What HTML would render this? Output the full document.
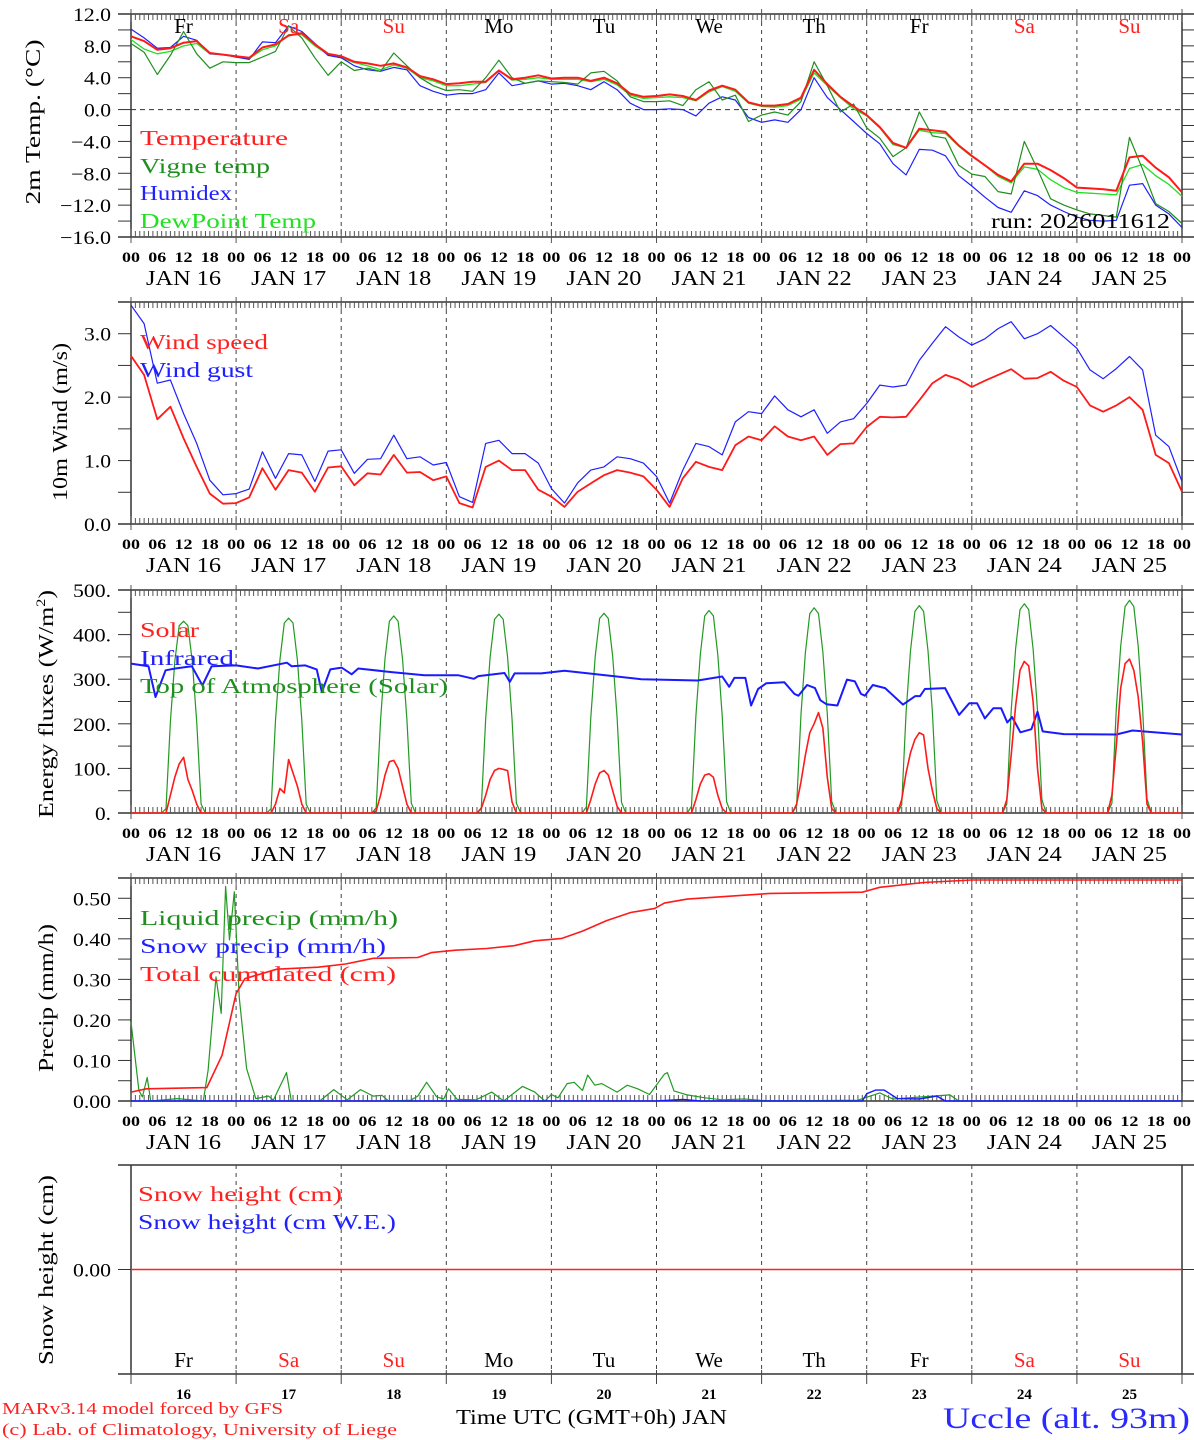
<!DOCTYPE html>
<html><head><meta charset="utf-8"><title>MAR forecast Uccle</title>
<style>
html,body{margin:0;padding:0;background:#fff;}
body{position:relative;width:1194px;height:1440px;overflow:hidden;}
svg{display:block;}
text{font-family:"Liberation Serif",serif;}
</style></head>
<body>
<svg id="chart" xmlns="http://www.w3.org/2000/svg" width="1194" height="1440" viewBox="0 0 1194 1440"></svg>
<script>
// ---------- DATA ----------
const dayLabels = ["Fr","Sa","Su","Mo","Tu","We","Th","Fr","Sa","Su"];
const dayNumbers = ["16","17","18","19","20","21","22","23","24","25"];
const hourTickLabels = ["00","06","12","18"];
const tempTicks = [12,8,4,0,-4,-8,-12,-16];
const windTicks = [0,1,2,3];
const fluxTicks = [0,100,200,300,400,500];
const precipTicks = [0,0.1,0.2,0.3,0.4,0.5];

// 3-hourly series, 81 points (Jan16 00 .. Jan26 00)
const temperature = [9.2,8.6,7.5,7.7,8.4,8.6,7.1,6.9, 6.7,6.5,7.8,8.2,9.3,9.6,8.2,7.0, 6.7,6.0,5.8,5.5,5.8,5.3,4.2,3.8, 3.2,3.3,3.5,3.5,4.9,3.8,4.0,4.3, 3.9,4.0,4.0,3.6,4.0,3.3,2.0,1.6, 1.7,1.9,1.7,1.2,2.4,3.0,2.5,0.9, 0.5,0.5,0.7,1.5,5.0,3.2,1.6,0.4, -0.7,-2.2,-4.2,-4.8,-2.4,-2.6,-2.8,-4.5, -5.8,-7.0,-8.2,-9.0,-6.8,-6.8,-7.6,-8.6, -9.8,-9.9,-10.0,-10.2,-6.0,-5.8,-7.3,-8.5,-10.4];
const vigneTemp = [8.3,7.2,4.4,6.8,9.8,7.0,5.2,6.0, 5.9,5.9,6.6,7.3,10.5,9.0,6.5,4.3, 6.0,4.9,5.2,4.8,7.1,5.5,4.0,3.0, 2.4,2.5,2.3,4.0,6.2,4.0,3.3,3.6, 3.5,3.4,3.2,4.6,4.8,3.6,1.6,1.0, 1.0,1.1,0.5,2.5,3.5,1.2,1.8,-1.5, -0.7,-0.3,-0.7,1.0,6.0,3.0,-0.3,0.7, -2.3,-3.6,-5.9,-4.8,-0.3,-3.3,-3.6,-7.0, -8.1,-8.4,-10.3,-10.6,-4.0,-7.5,-11.2,-12.0, -12.6,-13.1,-13.3,-13.5,-3.5,-7.5,-11.8,-12.8,-14.3];
const humidex = [10.1,9.0,7.7,7.8,9.2,8.7,7.0,6.9, 6.6,6.3,8.5,8.4,10.5,9.8,8.3,6.8, 6.5,5.5,5.0,4.8,5.3,5.0,3.0,2.3, 1.8,2.0,2.0,2.5,4.6,3.0,3.3,3.6, 3.2,3.3,3.0,2.5,3.5,2.5,0.8,0.0, 0.0,0.1,0.0,-0.8,0.8,1.6,1.2,-1.0, -1.6,-1.3,-1.6,0.0,4.0,1.5,0.0,-1.5, -3.0,-4.3,-6.8,-8.2,-5.0,-5.1,-5.8,-8.3, -9.6,-11.0,-12.3,-12.9,-10.2,-10.8,-12.0,-12.8, -13.5,-13.9,-14.0,-13.9,-9.5,-9.3,-12.0,-13.1,-14.8];
const dewPoint = [8.8,7.6,7.0,7.3,8.0,8.3,7.0,6.9, 6.6,6.4,7.5,8.0,9.4,9.4,8.0,6.9, 6.5,5.9,5.5,5.0,5.6,5.2,4.0,3.6, 3.0,3.0,3.2,3.4,4.9,3.7,3.8,4.0, 3.8,3.8,3.8,3.5,3.8,3.1,1.8,1.4, 1.5,1.6,1.5,1.1,2.2,2.9,2.3,0.8, 0.4,0.3,0.5,1.3,4.6,3.0,1.5,0.1, -0.8,-2.3,-4.4,-4.8,-2.6,-2.9,-3.0,-4.6, -5.9,-7.0,-8.4,-9.2,-7.2,-7.5,-8.8,-9.8, -10.4,-10.5,-10.6,-10.7,-7.4,-6.9,-8.3,-9.4,-10.9];
const windSpeed = [2.65,2.35,1.65,1.85,1.35,0.9,0.48,0.32, 0.33,0.42,0.88,0.54,0.85,0.81,0.51,0.89, 0.91,0.61,0.8,0.78,1.09,0.81,0.82,0.69, 0.75,0.33,0.26,0.9,1.0,0.85,0.85,0.54, 0.43,0.27,0.51,0.64,0.77,0.85,0.81,0.75, 0.54,0.27,0.72,0.98,0.9,0.85,1.24,1.38, 1.32,1.54,1.38,1.32,1.38,1.09,1.26,1.27, 1.53,1.69,1.68,1.69,1.95,2.22,2.35,2.28, 2.16,2.26,2.35,2.44,2.29,2.30,2.40,2.26, 2.16,1.87,1.77,1.87,2.0,1.80,1.09,0.96,0.51];
const windGust = [3.45,3.16,2.22,2.27,1.74,1.27,0.69,0.46, 0.48,0.55,1.14,0.72,1.11,1.09,0.67,1.15, 1.17,0.80,1.02,1.03,1.40,1.03,1.06,0.93, 0.97,0.43,0.34,1.27,1.32,1.11,1.11,0.96, 0.56,0.33,0.65,0.85,0.90,1.06,1.03,0.96, 0.75,0.33,0.85,1.27,1.22,1.09,1.61,1.77, 1.74,2.02,1.80,1.69,1.80,1.43,1.61,1.66, 1.90,2.19,2.16,2.19,2.58,2.85,3.11,2.95, 2.82,2.92,3.08,3.19,2.92,3.00,3.13,2.95, 2.77,2.43,2.29,2.45,2.64,2.43,1.40,1.22,0.67];

// hourly daytime values (hours 07..17) per day
const toaDaily = [
 [0,10,205,340,420,430,420,340,205,20,0],
 [0,10,208,343,426,437,426,343,208,20,0],
 [0,12,210,346,430,442,430,346,210,22,0],
 [0,12,212,349,434,446,434,349,212,22,0],
 [0,14,214,351,436,448,436,351,214,24,0],
 [0,15,218,355,442,454,442,355,218,25,0],
 [0,16,222,360,447,460,447,360,222,26,0],
 [0,18,226,364,452,465,452,364,226,28,0],
 [0,20,230,368,456,469,456,368,230,30,0],
 [0,22,234,374,463,477,463,374,234,32,0]];
const solarDaily = [
 [0,0,40,80,110,125,75,50,20,0,0],
 [0,0,20,55,45,120,90,60,20,0,0],
 [0,5,40,85,115,118,100,60,20,0,0],
 [0,10,40,75,95,100,98,95,25,0,0],
 [0,0,30,65,90,95,85,50,15,0,0],
 [0,0,30,65,85,88,80,40,10,0,0],
 [0,20,70,130,180,200,225,190,80,10,0],
 [0,30,90,135,165,180,175,100,50,10,0],
 [0,30,130,240,320,340,330,250,100,10,0],
 [0,40,150,280,335,345,320,260,160,20,0]];
const irHours = [0,4,5.6,7.9,10.1,13.9,16.3,18.4,24,29,35.6,36.7,39.8,42.4,43.6,45.5,48.1,50.4,51.9,59.5,67,74.7,78.3,79.3,85.3,86.5,87.6,93.7,99,116.5,129.4,135,136.6,137.8,140.3,141.6,143.2,145.1,149.2,151.5,152.4,154.4,156.2,157.4,158.8,161.3,163.5,165.3,166.7,167.6,169.4,172.2,176.3,179.1,180.2,181.3,185.9,189.1,191.4,193.2,195,196.9,198.7,200.1,201.2,203.1,205.6,207,208.2,213,225,228.7,240];
const irValues = [335,329,260,320,324,329,286,329,331,324,337,329,331,322,271,322,326,311,324,316,309,309,301,307,314,294,313,313,319,300,297,306,283,303,303,241,278,291,293,267,263,287,280,253,244,241,299,295,267,263,287,280,243,262,262,278,280,220,246,246,212,235,235,203,215,181,188,227,183,177,176,185,176];

const cumHours = [0,3.5,17.3,20.8,24,26,33.3,42.7,49,55.3,65.5,68.6,74.1,81.2,87.5,92.2,98.4,103.1,108.6,114.1,119.6,121.8,127,146,167,171,181,192,240];
const cumValues = [0.022,0.030,0.033,0.113,0.265,0.302,0.325,0.33,0.338,0.352,0.354,0.366,0.372,0.376,0.383,0.395,0.401,0.419,0.445,0.465,0.475,0.488,0.498,0.512,0.515,0.527,0.539,0.545,0.545];
const liquidHours = [0,1.8,2.6,3.7,4.5,10.6,16.5,17.6,19.4,20.6,21.6,22.5,23.6,24.7,26.4,28.5,31.4,32.5,35.5,36.6,43.1,46.3,49.4,52.4,55.3,57.3,58.8,63.9,65.5,67.5,69.8,71.4,72.5,74.5,78.8,82.4,85.1,89.4,92.2,94.5,96,97.5,99.6,101.2,103.1,104.3,105.9,107.5,111,113.3,115.7,118.4,121.8,122.5,124,127,131,135,140,146,166,171,174,187,189,240];
const liquidValues = [0.195,0.026,0.01,0.058,0,0.006,0,0.076,0.306,0.216,0.529,0.397,0.516,0.257,0.08,0.006,0.012,0.002,0.07,0,0,0.028,0.003,0.028,0.012,0.014,0,0.002,0.012,0.046,0.01,0.005,0.03,0.004,0.003,0.022,0,0.036,0.022,0,0.016,0.008,0.043,0.046,0.026,0.064,0.039,0.043,0.022,0.039,0.03,0.016,0.066,0.07,0.025,0.015,0.008,0.003,0.005,0,0.002,0.02,0.005,0.015,0,0];
const snowHours = [0,120,126,130,167,168,170,172,175,180,184,186,240];
const snowValues = [0,0,0.004,0,0,0.018,0.027,0.027,0.006,0.005,0.012,0,0];
const snowHeightHours = [0,240];
const snowHeightValues = [0,0];

// ---------- DRAWING ----------
const NS = "http://www.w3.org/2000/svg";
const svg = document.getElementById('chart');
const X0 = 131, X1 = 1182, TOTALH = 240;
function xs(h){ return X0 + h*(X1-X0)/TOTALH; }
function mk(tag, attrs, parent){
  const e = document.createElementNS(NS, tag);
  for (const k in attrs) e.setAttribute(k, attrs[k]);
  (parent||svg).appendChild(e);
  return e;
}
function txt(str, x, y, size, color, anchor, extra){
  const t = mk('text', Object.assign({x:x, y:y, 'font-size':size, fill:color||'#000', 'text-anchor':anchor||'start'}, extra||{}));
  t.textContent = str;
  return t;
}
function numWidth(s){ let w=0; for (const c of s){ w += (c==='.')?5:(c==='\u2212'?13:11); } return w; }
function ylabel(s, y){
  const t = txt(s, 111, y+7, 19, '#000', 'end', {textLength:numWidth(s), lengthAdjust:'spacingAndGlyphs'});
  
  
}
const panels = [
  {name:'temp', top:14, bottom:237, min:-16, max:12, step:2, hours:true},
  {name:'wind', top:302, bottom:524, min:0, max:3.5, step:0.5, hours:true},
  {name:'flux', top:590, bottom:813, min:0, max:500, step:50, hours:true},
  {name:'precip', top:878, bottom:1101, min:0, max:0.55, step:0.05, hours:true},
  {name:'snow', top:1165, bottom:1374, min:-1, max:1, step:null, hours:false}
];
function ysFor(p){ return v => p.bottom - (v-p.min)/(p.max-p.min)*(p.bottom-p.top); }

panels.forEach(p => {
  const g = mk('g', {});
  
  
  const lc = '#333';
  mk('line',{x1:118,y1:p.top,x2:1194,y2:p.top,stroke:lc,'stroke-width':1.5},g);
  mk('line',{x1:118,y1:p.bottom,x2:1194,y2:p.bottom,stroke:lc,'stroke-width':1.5},g);
  mk('line',{x1:X0,y1:p.top,x2:X0,y2:p.bottom,stroke:lc,'stroke-width':1.5},g);
  mk('line',{x1:X1,y1:p.top,x2:X1,y2:p.bottom,stroke:lc,'stroke-width':1.5},g);
  for (let d=1; d<10; d++){
    const x = xs(d*24);
    mk('line',{x1:x,y1:p.top,x2:x,y2:p.bottom,stroke:'#444','stroke-width':1,'stroke-dasharray':'4,4'},g);
  }
  if (p.hours){
    for (let h=0; h<=240; h++){
      const x = xs(h);
      const day = h%24===0;
      mk('line',{x1:x,y1:p.top-(day?5:0),x2:x,y2:p.top+(day?8:6),stroke:'#555','stroke-width':1},g);
      mk('line',{x1:x,y1:p.bottom-(day?8:6),x2:x,y2:p.bottom+(day?6:0),stroke:'#555','stroke-width':1},g);
    }
    for (let h=0; h<=240; h+=6){
      txt(hourTickLabels[(h/6)%4], xs(h), p.bottom+25, 15, '#000', 'middle', {'font-weight':'bold', textLength:18, lengthAdjust:'spacingAndGlyphs'});
    }
    for (let d=0; d<10; d++){
      txt('JAN  ' + dayNumbers[d], xs(d*24+12), p.bottom+48, 21, '#000', 'middle', {textLength:75, lengthAdjust:'spacingAndGlyphs'});
    }
  } else {
    for (let d=0; d<=10; d++){
      const x = xs(d*24);
      mk('line',{x1:x,y1:p.bottom-4,x2:x,y2:p.bottom+10,stroke:'#444','stroke-width':1},g);
    }
  }
  const ys = ysFor(p);
  if (p.step){
    const n = Math.round((p.max-p.min)/p.step);
    for (let i=0;i<=n;i++){
      const y = ys(p.min + i*p.step);
      mk('line',{x1:118,y1:y,x2:X0,y2:y,stroke:lc,'stroke-width':1},g);
      mk('line',{x1:X1,y1:y,x2:1194,y2:y,stroke:lc,'stroke-width':1},g);
    }
  } else {
    mk('line',{x1:118,y1:ys(0),x2:X0,y2:ys(0),stroke:lc,'stroke-width':1},g);
    mk('line',{x1:X1,y1:ys(0),x2:1194,y2:ys(0),stroke:lc,'stroke-width':1},g);
  }
});

function polyline(pts, color, width, name){
  const el = mk('polyline',{points:pts.map(p=>p[0].toFixed(1)+','+p[1].toFixed(1)).join(' '),fill:'none',stroke:color,'stroke-width':width,'stroke-linejoin':'round'});
  
  
  return el;
}
function series3h(vals, ys){ return vals.map((v,i)=>[xs(i*3), ys(v)]); }
function seriesXY(hours, vals, ys){ return hours.map((h,i)=>[xs(h), ys(vals[i])]); }
function seriesDaily(daily, ys){
  const pts = [[xs(0), ys(0)]];
  daily.forEach((arr,d)=>arr.forEach((v,i)=>pts.push([xs(d*24+7+i), ys(v)])));
  pts.push([xs(240), ys(0)]);
  return pts;
}

// Panel 1
const yT = ysFor(panels[0]);
mk('line',{x1:X0,y1:yT(0),x2:X1,y2:yT(0),stroke:'#333','stroke-width':1,'stroke-dasharray':'5,4'});
tempTicks.forEach(v=>ylabel(v.toFixed(1).replace('-','\u2212'), yT(v)));
polyline(series3h(dewPoint,yT),'#22e022',1.3,'dewpoint-line');
polyline(series3h(humidex,yT),'#2020ff',1.2,'humidex-line');
polyline(series3h(vigneTemp,yT),'#1f8f1f',1.2,'vigne-temp-line');
polyline(series3h(temperature,yT),'#ff1a1a',2,'temperature-line');
dayLabels.forEach((s,d)=>{ txt(s, xs(d*24+12), 33, 21, (s==='Sa'||s==='Su')?'#ff2020':'#000','middle'); });

// Panel 2
const yW = ysFor(panels[1]);
windTicks.forEach(v=>ylabel(v.toFixed(1), yW(v)));
polyline(series3h(windGust,yW),'#2020ff',1.2,'wind-gust-line');
polyline(series3h(windSpeed,yW),'#ff1a1a',1.8,'wind-speed-line');

// Panel 3
const yF = ysFor(panels[2]);
fluxTicks.forEach(v=>ylabel(v+'.', yF(v)));
polyline(seriesDaily(toaDaily,yF),'#229922',1.2,'toa-solar-line');
polyline(seriesXY(irHours,irValues,yF),'#1a1aff',2,'infrared-line');
polyline(seriesDaily(solarDaily,yF),'#ff1a1a',1.6,'solar-line');

// Panel 4
const yP = ysFor(panels[3]);
precipTicks.forEach(v=>ylabel(v.toFixed(2), yP(v)));
polyline(seriesXY(liquidHours,liquidValues,yP),'#229922',1.2,'liquid-precip-line');
polyline(seriesXY(snowHours,snowValues,yP),'#1a1aff',1.4,'snow-precip-line');
polyline(seriesXY(cumHours,cumValues,yP),'#ff1a1a',1.6,'total-cumulated-line');

// Panel 5
const yS = ysFor(panels[4]);
ylabel('0.00', yS(0));
polyline(seriesXY(snowHeightHours,snowHeightValues,yS),'#ff2020',1.6,'snow-height-line');
dayLabels.forEach((s,d)=>{ txt(s, xs(d*24+12), 1367, 21, (s==='Sa'||s==='Su')?'#ff2020':'#000','middle'); });
dayNumbers.forEach((s,d)=>{ txt(s, xs(d*24+12), 1399, 15, '#000','middle',{'font-weight':'bold', textLength:15, lengthAdjust:'spacingAndGlyphs'}); });
</script>

<svg xmlns="http://www.w3.org/2000/svg" width="1194" height="1440" viewBox="0 0 1194 1440" style="position:absolute;left:0;top:0;">
  <g font-family="Liberation Serif, serif">
    <text transform="translate(40,122) rotate(-90)" text-anchor="middle" font-size="21" textLength="165" lengthAdjust="spacingAndGlyphs">2m Temp. (°C)</text>
    <text transform="translate(67,422) rotate(-90)" text-anchor="middle" font-size="21" textLength="158" lengthAdjust="spacingAndGlyphs">10m Wind (m/s)</text>
    <text transform="translate(53,704) rotate(-90)" text-anchor="middle" font-size="21" textLength="228" lengthAdjust="spacingAndGlyphs">Energy fluxes (W/m<tspan font-size="13" dy="-8">2</tspan><tspan dy="8">)</tspan></text>
    <text transform="translate(53,998) rotate(-90)" text-anchor="middle" font-size="21" textLength="148" lengthAdjust="spacingAndGlyphs">Precip (mm/h)</text>
    <text transform="translate(53,1270) rotate(-90)" text-anchor="middle" font-size="21" textLength="190" lengthAdjust="spacingAndGlyphs">Snow height (cm)</text>

    <text x="140" y="145" font-size="21" fill="#ff2020" textLength="148" lengthAdjust="spacingAndGlyphs">Temperature</text>
    <text x="140" y="173" font-size="21" fill="#1f8f1f" textLength="130" lengthAdjust="spacingAndGlyphs">Vigne temp</text>
    <text x="140" y="200" font-size="21" fill="#2020ff" textLength="92" lengthAdjust="spacingAndGlyphs">Humidex</text>
    <text x="140" y="228" font-size="21" fill="#22e022" textLength="176" lengthAdjust="spacingAndGlyphs">DewPoint Temp</text>
    <text x="991" y="228" font-size="21" fill="#000" textLength="179" lengthAdjust="spacingAndGlyphs">run: 2026011612</text>

    <text x="140" y="349" font-size="21" fill="#ff2020" textLength="128" lengthAdjust="spacingAndGlyphs">Wind speed</text>
    <text x="140" y="377" font-size="21" fill="#2020ff" textLength="113" lengthAdjust="spacingAndGlyphs">Wind gust</text>

    <text x="140" y="637" font-size="21" fill="#ff2020" textLength="59" lengthAdjust="spacingAndGlyphs">Solar</text>
    <text x="140" y="665" font-size="21" fill="#2020ff" textLength="94" lengthAdjust="spacingAndGlyphs">Infrared</text>
    <text x="140" y="693" font-size="21" fill="#1f8f1f" textLength="308" lengthAdjust="spacingAndGlyphs">Top of Atmosphere (Solar)</text>

    <text x="140" y="925" font-size="21" fill="#1f8f1f" textLength="258" lengthAdjust="spacingAndGlyphs">Liquid precip (mm/h)</text>
    <text x="140" y="953" font-size="21" fill="#2020ff" textLength="246" lengthAdjust="spacingAndGlyphs">Snow precip (mm/h)</text>
    <text x="140" y="981" font-size="21" fill="#ff2020" textLength="256" lengthAdjust="spacingAndGlyphs">Total cumulated (cm)</text>

    <text x="138" y="1201" font-size="21" fill="#ff2020" textLength="204" lengthAdjust="spacingAndGlyphs">Snow height (cm)</text>
    <text x="138" y="1229" font-size="21" fill="#2020ff" textLength="258" lengthAdjust="spacingAndGlyphs">Snow height (cm W.E.)</text>

    <text x="2" y="1414" font-size="17" fill="#ff2020" textLength="281" lengthAdjust="spacingAndGlyphs">MARv3.14 model forced by GFS</text>
    <text x="2" y="1435" font-size="17" fill="#ff2020" textLength="395" lengthAdjust="spacingAndGlyphs">(c) Lab. of Climatology, University of Liege</text>
    <text x="456" y="1424" font-size="21" fill="#000" textLength="271" lengthAdjust="spacingAndGlyphs">Time UTC (GMT+0h) JAN</text>
    <text x="943" y="1428" font-size="30" fill="#2a2aff" textLength="247" lengthAdjust="spacingAndGlyphs">Uccle (alt. 93m)</text>
  </g>
</svg>
</body></html>
